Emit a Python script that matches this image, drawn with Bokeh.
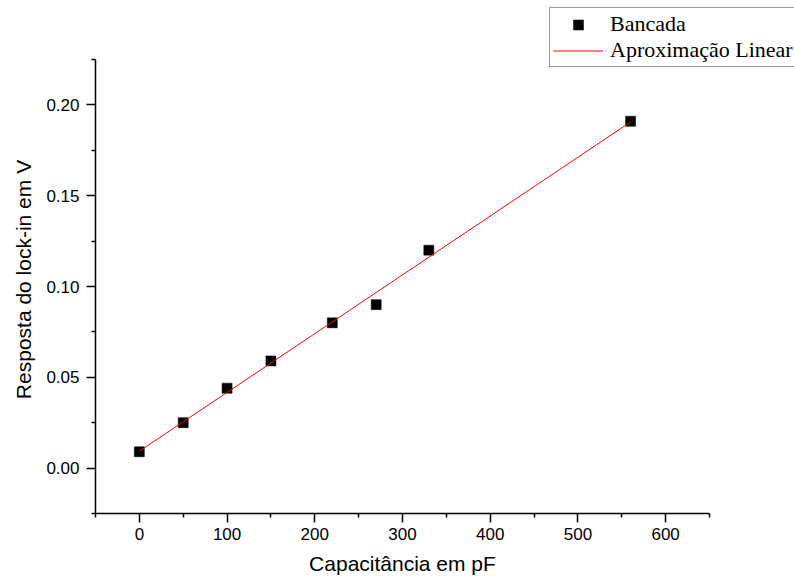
import math
from bokeh.plotting import figure
from bokeh.models import (FixedTicker, Legend, LegendItem, Range1d,
                          NumeralTickFormatter, Label)
from bokeh.embed import file_html
from bokeh.resources import INLINE

# Data
capacitance = [0, 50, 100, 150, 220, 270, 330, 560]
response = [0.009, 0.025, 0.044, 0.059, 0.080, 0.090, 0.120, 0.191]
fit_x = [0, 560]
fit_y = [0.0093, 0.1906]

x_ticks = [0, 100, 200, 300, 400, 500, 600]
x_minor = [-50, 50, 150, 250, 350, 450, 550, 650]
y_ticks = [0.0, 0.05, 0.10, 0.15, 0.20]
y_minor = [-0.025, 0.025, 0.075, 0.125, 0.175, 0.225]

x_label = "Capacitância em pF"
y_label = "Resposta do lock-in em V"
series_labels = ["Bancada", "Aproximação Linear"]

# Layout: the plotting frame covers the whole canvas so the legend may
# overflow the axes box (as in the reference); axes are pinned with bounds.
W, H = 794, 577
FL, FR, FT, FB = 95, 709, 59, 513   # axes box edges in pixels
x0, x1 = -50, 650
y0, y1 = -0.025, 0.225
kx = (FR - FL) / (x1 - x0)
ky = (FB - FT) / (y1 - y0)
x_range = Range1d(x0 - FL / kx, x1 + (W - FR) / kx)
y_range = Range1d(y0 - (H - FB) / ky, y1 + FT / ky)

p = figure(width=W, height=H, output_backend="svg", toolbar_location=None,
           x_range=x_range, y_range=y_range, min_border=0,
           background_fill_color="white", border_fill_color="white")
p.outline_line_color = None
p.xgrid.visible = False
p.ygrid.visible = False

p.xaxis.ticker = FixedTicker(ticks=x_ticks, minor_ticks=x_minor)
p.yaxis.ticker = FixedTicker(ticks=y_ticks, minor_ticks=y_minor)
p.yaxis.formatter = NumeralTickFormatter(format="0.00")
p.xaxis.bounds = (x0, x1)
p.yaxis.bounds = (y0, y1)
p.xaxis.fixed_location = y0
p.yaxis.fixed_location = x0

for ax in (p.xaxis[0], p.yaxis[0]):
    ax.axis_line_width = 1.5
    ax.axis_line_color = "black"
    ax.major_tick_line_width = 1.5
    ax.minor_tick_line_width = 1.5
    ax.major_tick_line_color = "black"
    ax.minor_tick_line_color = "black"
    ax.major_tick_in = 0
    ax.major_tick_out = 9
    ax.minor_tick_in = 0
    ax.minor_tick_out = 4
    ax.major_label_text_font = "Liberation Sans"
    ax.major_label_text_font_size = "17px"
    ax.major_label_text_color = "black"

p.xaxis.major_label_standoff = 5
p.yaxis.major_label_standoff = 7

sq = p.scatter(capacitance, response, marker="square", size=10,
               fill_color="black", line_color="black", line_width=0.5)
ln = p.line(fit_x, fit_y, line_color="red", line_width=1)

p.add_layout(Label(x=(x0 + x1) / 2, y=14, y_units="screen", text=x_label,
                   text_align="center", text_baseline="alphabetic",
                   text_font="Liberation Sans", text_font_size="21px",
                   text_color="black"))
p.add_layout(Label(x=23, x_units="screen", y=298, y_units="screen",
                   angle=math.pi / 2, text=y_label,
                   text_align="center", text_baseline="alphabetic",
                   text_font="Liberation Sans", text_font_size="21px",
                   text_color="black"))

legend = Legend(items=[LegendItem(label=series_labels[0], renderers=[sq]),
                       LegendItem(label=series_labels[1], renderers=[ln])],
                location=(549, 510))
legend.label_text_font = "Liberation Serif"
legend.label_text_font_size = "22px"
legend.label_text_color = "black"
legend.border_line_color = "#333333"
legend.border_line_width = 1
legend.background_fill_color = "white"
legend.background_fill_alpha = 1
legend.padding = 3
legend.spacing = 0
legend.margin = 0
legend.glyph_width = 50
legend.glyph_height = 25
legend.label_height = 25
legend.label_standoff = 7
p.add_layout(legend)

open("out.html", "w").write(file_html(p, INLINE))
